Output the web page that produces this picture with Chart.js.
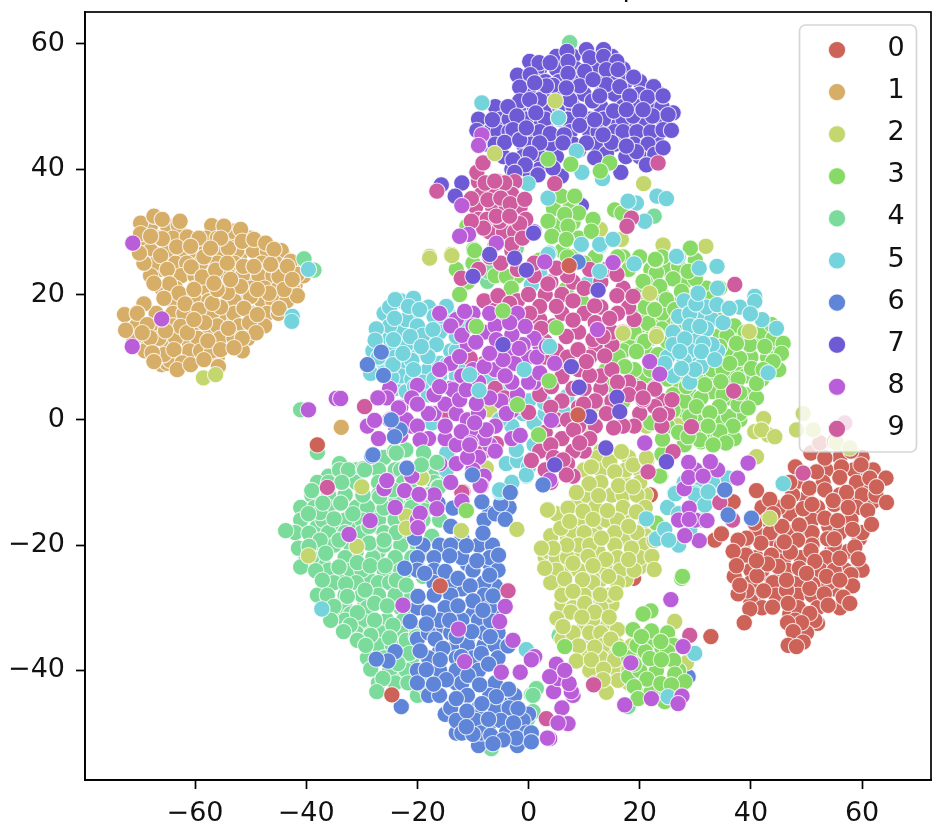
<!DOCTYPE html>
<html><head><meta charset="utf-8">
<script src="https://cdn.jsdelivr.net/npm/chart.js@4/dist/chart.umd.min.js"></script>
<style>html,body{margin:0;padding:0;background:#fff}canvas{display:block}</style>
</head><body><canvas id="c" width="942" height="840"></canvas>
<script>
const legendLabels=["0","1","2","3","4","5","6","7","8","9"];
const classColors=["#CC6258","#D6AE67","#C4D76F","#87DA65","#7ADB9B","#74D3DB","#5E85D8","#6F5AD5","#BA5DD8","#CE5C9E"];
const xTickValues=[-60,-40,-20,0,20,40,60];
const yTickValues=[-40,-20,0,20,40,60];
const class0=[[50.8,-5.3],[53.3,-6.1],[56.3,-7.5],[59.8,-7.2],[61.4,-9.3],[64.3,-9.3],[64.4,-13.2],[51.8,-8.3],[56,-9.2],[50.5,-10.9],[53.3,-11.2],[57.2,-11.6],[54.8,-12.9],[46.7,-13.1],[43.4,-12.7],[41,-11.3],[49.4,-14.2],[53.3,-15.7],[55.6,-16.1],[61,-14.5],[61.7,-16.7],[58.3,-17.5],[48.7,-16.8],[45.6,-17],[40.7,-16.5],[53.8,-19],[48.4,-19.2],[41.8,-19.7],[39.2,-18.9],[37.7,-19.2],[58.7,-20.3],[59.3,-22.2],[50.8,-20.9],[47.1,-21.1],[43.7,-21.6],[39.1,-21.6],[36.8,-21],[56,-22.1],[51.5,-22.6],[44.9,-23.4],[37.4,-23.3],[41.1,-24.9],[48.7,-23.7],[58,-24.7],[58.3,-26.5],[50.6,-26.9],[53.2,-27.8],[46.4,-27.2],[42.3,-27.3],[39.3,-27.3],[37.7,-27.8],[38,-26.4],[56.6,-28.3],[57.8,-29.3],[53.9,-29.6],[46.7,-29.3],[43.9,-29.9],[39.8,-30.2],[38.8,-32.4],[50.6,-30.9],[49.1,-32.4],[46.6,-32.4],[47.6,-33.8],[49.4,-35.5],[46.7,-36],[48.2,-36.2],[46.4,-25.6],[53.6,-25],[56,-25.6],[50,-24.5],[33.5,-19.2],[34.7,-18.2],[36.8,-13.1],[21.9,-12],[18.9,-25.3],[32.8,-34.6],[52.4,-3.7],[62.6,-10.7],[55,-3.5],[58,-5],[48,-7.5],[47,-10],[44,-15],[43,-23],[55,-19],[51,-13.5],[57.5,-14],[46,-19.5],[41,-22.5]];
const fill0=[[56,-6],[60,-6],[53.5,-8],[58.5,-8],[62,-8],[48,-10],[53,-10],[59,-10],[47.5,-12],[56,-12],[60,-12],[62.5,-12],[45,-14],[52,-14],[59,-14],[43,-16],[51,-16],[58,-16],[43.5,-18],[47,-18],[51,-18],[56,-18],[60,-18],[45.5,-20],[51,-20],[55,-20],[41,-22],[49,-22],[53.5,-22],[40,-24],[42,-24],[46.5,-24],[52.5,-24],[55,-24],[40,-26],[44,-26],[48.5,-26],[54,-26],[44.5,-28],[48.5,-28],[51,-28],[42,-30],[48.5,-30],[52,-30],[56,-30],[48,-32],[51.5,-32],[48,-34],[50,-34]];
const extra0=[[52,-4.5],[49,-9],[55,-13.5],[50,-12.5],[61,-11],[47,-15],[42,-14],[54,-17],[59.5,-19],[50,-17.5],[44,-19],[41,-18],[38.5,-20.5],[46,-22],[54.5,-21],[57.5,-21],[42,-24.5],[45,-25.5],[52,-25.5],[60,-24],[55,-27],[41,-28],[37,-25],[47,-31],[52,-32.5],[44.5,-28.5],[49,-27],[40,-29],[48,-35],[57,-24],[51,-19],[62,-13],[60,-9],[58,-13]];
const class1=[[-69.8,31.4],[-69.8,29.7],[-67.4,32.5],[-65.9,32],[-62.7,31.7],[-65.9,28.9],[-61.4,29.2],[-59.3,29],[-63.3,27.6],[-66.2,26.2],[-69.2,25],[-65,24],[-58.4,26],[-60.7,24.4],[-58.7,22.8],[-56.3,23.9],[-54,27.4],[-53.2,30.1],[-54.8,30.9],[-51.8,30.4],[-55.4,29],[-57.2,27.4],[-51.5,28.5],[-49.4,28.8],[-47.3,28.2],[-45.8,27.2],[-51.3,24.5],[-54.2,25],[-49.4,24.5],[-44.9,22.9],[-46.4,24.8],[-42.8,25.3],[-41.6,23.2],[-41.6,19.8],[-44,20.8],[-44.9,17.8],[-46.7,20.2],[-50,19.7],[-51.8,21.3],[-54.2,20.3],[-64.6,21.7],[-67.4,21.8],[-62.9,20.2],[-65.6,19.4],[-61.8,18.5],[-55.4,18],[-59.3,17.6],[-56.9,18.6],[-51.2,17.8],[-50.2,15.5],[-48.8,16.8],[-49,13.9],[-54,14.6],[-58.3,15.5],[-62.6,14.9],[-69.2,18.5],[-72.7,16.8],[-72.5,14.3],[-70.4,17],[-68.6,15.2],[-65.3,14.2],[-68.1,13.1],[-69.5,13.9],[-57.7,12.6],[-51.5,13],[-55.4,11.2],[-53,11.5],[-65.6,10.4],[-67.7,10.7],[-63.8,11.2],[-62.3,9.1],[-67.4,9.3],[-63.2,8],[-60.8,8.8],[-58.4,9.6],[-55.8,8.5],[-61.4,13.9],[-60.2,16],[-56,20.8],[-60.2,20.8],[-53.6,22.4],[-56.6,21.8],[-48.8,20.8],[-60.8,27.7],[-68,29.3],[-70,26.6],[-43.4,24.5],[-42.5,22.4],[-33.7,-1.2]];
const fill1=[[-68,31],[-65,31],[-63,31],[-69,29],[-66.5,29],[-64,29],[-58,29],[-56,29],[-53,29],[-50,29],[-68,27],[-65,27],[-62,27],[-60,27],[-58,27],[-55.5,27],[-52.5,27],[-49.5,27],[-47,27],[-44.5,27],[-69,25],[-67,25],[-63.5,25],[-61.5,25],[-59,25],[-56,25],[-53,25],[-48,25],[-45.5,25],[-43,25],[-41,25],[-68,23],[-62.5,23],[-60,23],[-57,23],[-54,23],[-51.5,23],[-48.5,23],[-46,23],[-43.5,23],[-40.5,23],[-66,21],[-63.5,21],[-60,21],[-58,21],[-52.5,21],[-50,21],[-47.5,21],[-45,21],[-42.5,21],[-64,19],[-60,19],[-57.5,19],[-53,19],[-48,19],[-46,19],[-43.5,19],[-70.5,17],[-67,17],[-64,17],[-62,17],[-57,17],[-53,17],[-50,17],[-47,17],[-45,17],[-70.5,15],[-67,15],[-64,15],[-60,15],[-56,15],[-52,15],[-47.5,15],[-71,13],[-66.5,13],[-63.5,13],[-59.5,13],[-55.5,13],[-53,13],[-50.5,13],[-69,11],[-61,11],[-59,11],[-57,11],[-51.5,11],[-65,9],[-64.5,9.5]];
const extra1=[[-67,27],[-64,25],[-66,24],[-57,31],[-52,26],[-48,26.5],[-44,26],[-58,24],[-54,21.5],[-49,22],[-62,19],[-58,17],[-52,19],[-46,18.5],[-50,15],[-55,16],[-66,16],[-69,12],[-65,12],[-61,12],[-58,13.5],[-56,10],[-66,8.8],[-60,10],[-53,15.5],[-63,23],[-59,20],[-47,22.8],[-42,21.5]];
const class2=[[14.6,-6.7],[16.7,-5.1],[18.8,-7.2],[21.3,-6.4],[11.3,-7.5],[15.5,-8.3],[10.9,-10.2],[16.2,-10.5],[18.8,-10.7],[8.6,-11.6],[12.6,-12.1],[3.5,-14.3],[7.1,-14.1],[14.2,-14.5],[9.8,-14.6],[19.4,-14.7],[11.6,-15.9],[5.8,-17.3],[18,-17],[7.4,-16.2],[13.1,-18.9],[22.6,-19.3],[6.9,-20],[4.4,-20.5],[2.3,-20.5],[18.5,-20.5],[10.7,-21.8],[13.9,-22.3],[22.2,-21.8],[18,-22.3],[2.9,-23.7],[8,-22.9],[11.6,-23.3],[22.6,-23.9],[6.5,-25.4],[9.7,-25.5],[14.4,-25],[8,-27.4],[12.9,-27.9],[15.7,-27.7],[10.1,-29.3],[7.6,-30.7],[11.9,-30.7],[14.5,-31.5],[9.6,-31.5],[5.1,-31.7],[6.2,-33],[26.3,-32.2],[14.8,-35],[9,-36.1],[11.9,-36.3],[18.5,-36.1],[8.6,-38.5],[11.3,-38.3],[15.5,-38.3],[13.5,-39.8],[16.1,-41.6],[14,-43.5],[28.4,-38.8],[13.4,-41.5],[42.3,0.2],[43.1,-2.4],[40.7,-1.9],[41.9,-1.6],[44.3,-2.7],[28.1,-2.8],[27.2,0.3],[27.5,1.6],[21.2,-1],[21.2,-6.1],[41,-5.9],[49.4,1],[48.2,-1.6],[51.2,-1.6],[55.4,-3.7],[57.8,-4.5],[-58.5,6.7],[-56.3,7.2],[24.2,27.9],[31.9,27.7],[20.7,37.7],[12.9,30.4],[16.7,28.8],[24.2,27.9],[-17.8,26.1],[-13.9,26.4],[-39.6,-21.7],[-30.9,-20.2],[-30,-10.7],[-19.2,-9.3],[-12.1,-17.7],[-2.1,-17.5],[3.4,-14.4],[-7.6,-7.7],[-22,-15.4],[-22,-17.3],[10.7,-1.1],[13.1,2.4],[-7,1.6],[-19.2,-9.3]];
const fill2=[[12.5,-6],[18,-6],[13,-8],[17.5,-8],[20,-8],[13,-10],[20,-10],[10.5,-12],[15,-12],[17,-12],[19.5,-12],[12,-14],[17,-14],[21,-14],[9.5,-16],[14,-16],[16,-16],[21,-16],[8,-18],[10,-18],[15.5,-18],[19.5,-18],[9,-20],[11,-20],[15.5,-20],[21,-20],[5,-22],[7,-22],[16,-22],[20,-22],[5,-24],[9,-24],[14,-24],[16.5,-24],[19,-24],[4,-26],[11.5,-26],[16,-26],[6,-28],[10,-28],[14.5,-28],[8,-30],[13,-30],[11.5,-32],[8,-34],[11,-34],[13,-34],[13.5,-36],[16,-36],[13,-38],[11,-40],[16,-40],[18,-40],[12,-42],[18,-42]];
const extra2=[[13,-5],[10,-8],[17,-9],[21,-12],[9,-13],[5,-15],[17.5,-15.5],[12,-17],[22,-17],[7,-19],[11.5,-18.5],[17,-19],[4,-18.5],[21,-18.5],[3,-22],[12.5,-21],[15,-23],[19.5,-20.5],[9,-21],[5,-24],[7.5,-24],[11,-25],[13,-25.5],[17.5,-25.5],[20,-23.5],[3.5,-21],[6,-27],[8.5,-29],[13,-29],[11,-27.5],[15,-29.5],[6,-29.5],[10,-33],[14,-33],[7.5,-35],[11,-35.5],[16,-33.5],[6,-35],[9.5,-37.5],[14.5,-37.5],[17,-38],[12,-40],[14.5,-40.5],[18,-37.5]];
const class3=[[6.5,-36.2],[20.6,-31],[22.1,-33.7],[23.8,-35.4],[21.8,-38.1],[26.1,-38.4],[26.3,-40.6],[21.3,-41.4],[23.8,-42.1],[28.1,-41.8],[19,-42.6],[19.7,-44.5],[25.7,-42.3],[24.5,-45],[16.4,-36.6],[18.8,-33.5],[20.3,-34.6],[23.9,-38.3],[27.5,-25.3],[27.7,-25],[23,-16.5],[23.8,-9],[22.9,25.5],[29.1,27.4],[28.7,23.7],[23.6,21.3],[27.5,20.5],[34.4,21],[24.8,19.2],[26.3,17.6],[21.5,15.4],[20.6,12.5],[35.7,13.4],[43.7,15.2],[45.8,12.2],[45.5,10.6],[39.8,12],[42.5,11.7],[38,9.8],[44,9.3],[35,8],[40.1,8.2],[37.7,6.5],[31.7,5.6],[34.6,6.1],[28.4,5.3],[41,5.8],[30.2,2.1],[34.3,2.1],[37.7,2.4],[39.5,1.9],[32.6,1.1],[36.8,-1],[34.4,-1.9],[30.8,-3.2],[35.5,-3.7],[33.2,-4],[24.1,-3.1],[23.6,-9],[23.3,10.4],[22.7,17.6],[34.4,11.7],[37.4,12.2],[36.2,9],[42.2,8],[38,4.3],[32.3,-1],[28.7,-2.7],[20.9,12.5],[14.9,12.2],[16.1,10.1],[19.4,10.9],[17.3,8.5],[18.5,4.8],[22.8,25.6],[20.6,22.1],[6.8,20.9],[9.5,19],[4.2,29.2],[6.8,28.8],[-4,22.9],[-3.1,21],[-11.1,30.9],[-3.7,30.3],[-9.9,27.2],[4.5,33.7],[5.9,35.7],[8.3,35.7],[6.5,32.8],[3.5,31.7],[7.1,30.9],[4.2,29.3],[6.8,28.8],[11.6,32],[11.3,30.1],[15.5,33.5],[16.8,33],[-9.7,27],[-12.4,20]];
const fill3=[[24,26],[27,24.5],[30,25.5],[26,22.5],[23,23.5],[30,22.5],[33,19.5],[21,22],[24,17],[21,18],[27,18.5],[24,14.5],[27,15.5],[22,13],[25,12.5],[34,16],[37,15],[39,14],[42,14],[44,13],[34.5,13.5],[36.5,10.5],[40,10],[43,10],[22,8],[25,6.5],[28,3],[31,3.5],[33,8],[36,7],[39,7],[42,6.5],[30,7],[26,1.5],[29,0.5],[32,-2],[35,4],[38,1],[36,0.5],[41,3.5],[34,-3],[37,-3],[27,-2],[31,-1.5],[24,-5.5],[19,8],[17,11],[14,8],[19,5.5],[19.5,-36],[21.5,-35.5],[20,-40],[23,-40],[25,-37],[19,-39],[24,-44],[22,-43.5],[27,-44],[21,-37],[5,31],[9,33],[7,26],[10,25],[16,26],[18,24],[20,26]];
const extra3=[[25,24],[22,24],[28,22],[31,21],[24,20],[20,20],[29,19.5],[32,21],[22,16],[25,16],[27,13],[20,15],[36,14],[38,12.5],[41,13],[44,11.5],[39,9],[41,7],[45,8],[37,8],[32,7],[27,6],[24,8],[21,7],[29,4],[26,4],[33,4.5],[36,3.5],[39,4],[33,0],[30,0],[28,1.5],[35,0],[38,0],[31,-3.5],[28,-4],[20,17],[18,12],[16,13.5],[19,14],[21,11],[15,5.5],[17,3],[22,-0.5],[25,-1],[7.5,34],[5,30.5],[8,31.5],[9,29],[6,27],[2,25.5],[-2,23],[-6,23],[-10,25],[-13,24],[-11,22],[22,-38],[24,-36.5],[25,-34],[18,-41],[21,-44],[27,-40],[20,-37],[26,-36],[22,-30.5],[18,-38],[8,26],[12,26],[17,26]];
const class4=[[-43.7,-17.7],[-39,-11.3],[-32.4,-8],[-29.7,-7.8],[-33.6,-10],[-29.8,-12],[-23.9,-13.3],[-26,-14.1],[-37.5,-14.8],[-39.6,-15],[-35,-15.8],[-31.6,-15],[-39.5,-18.1],[-37.5,-19.2],[-34.1,-19.2],[-23.8,-18],[-41.4,-20.5],[-36.5,-21.3],[-28.7,-19.7],[-30.8,-22.8],[-28.5,-23.3],[-25.8,-23.3],[-41,-23.5],[-38.3,-24.1],[-34.1,-23.5],[-20.2,-23.3],[-18.7,-21.3],[-17.4,-18.6],[-23.8,-25.6],[-22,-26.4],[-37.1,-25.6],[-32.9,-26.2],[-29.4,-27.2],[-36.2,-28],[-32.6,-28.2],[-27.7,-29.3],[-25.4,-29.7],[-35,-29.8],[-30.8,-30.8],[-35.6,-32],[-27.7,-32],[-32.1,-32.8],[-24.4,-32.8],[-33.3,-33.8],[-28.4,-34.4],[-25,-34.8],[-30.8,-35.2],[-22,-35.2],[-29.3,-36],[-20.2,-34.6],[-21.4,-37.3],[-28.4,-39.8],[-26.2,-41.3],[-21.7,-42],[-27.3,-43.4],[-18.4,-42.9],[-23.5,-38.9],[-22,-4.8],[-18.9,-5.3],[-19,-7.2],[-16.5,-6.8],[-16.3,-10.7],[-24.1,-5],[-20.8,-9.6],[-16,-16],[-38,-5.2],[0.5,-43.9],[-4.6,-47.7],[-0.1,-47.7],[1.4,-42.9],[-6.7,-52.5],[5.5,-34.4],[-37,-13.3],[-26.8,-12.3],[-33.8,-13.3],[-28.7,-17],[-26,-19.2],[-39.5,-20.2],[-2.2,27.2],[-7.4,22.1],[-7.3,23.7],[-22.1,-4.8],[-23.8,-5.3],[-24.4,-11.2],[-29.5,-8],[-16.2,-10.8],[7.4,60.2],[-40.4,25.7],[-38.6,23.9],[-41,1.6],[22.6,32.5],[-2.2,27.4],[0.8,-44],[0.8,-46.6],[17.9,-45.8]];
const fill4=[[-34,-8],[-31,-8],[-27,-8],[-23,-8],[-20,-8],[-38,-10],[-36,-10],[-31,-10],[-27,-10],[-22.5,-10],[-17,-10],[-39,-12],[-36,-12],[-33,-12],[-27,-12],[-24,-12],[-21,-12],[-18,-12],[-38.5,-14],[-36,-14],[-31,-14],[-29,-14],[-23,-14],[-21,-14],[-41,-16],[-37,-16],[-33,-16],[-30,-16],[-27,-16],[-24,-16],[-19,-16],[-42,-18],[-36,-18],[-33,-18],[-30,-18],[-26,-18],[-22,-18],[-39,-20],[-35,-20],[-32,-20],[-26,-20],[-23,-20],[-20,-20],[-39,-22],[-33,-22],[-28,-22],[-24,-22],[-21,-22],[-36,-24],[-32,-24],[-30,-24],[-26,-24],[-23,-24],[-35,-26],[-31,-26],[-27,-26],[-25,-26],[-38,-28],[-30,-28],[-27,-28],[-24,-28],[-21,-28],[-33,-30],[-32,-31],[-29,-30],[-23,-30],[-33,-32],[-30,-32],[-25.5,-32],[-22.5,-32],[-31,-34],[-26.5,-34],[-23,-34],[-27,-36],[-24.5,-36],[-26,-38],[-21,-38],[-25,-40],[-22,-40],[-19.5,-40],[-24,-42],[-19.5,-42]];
const extra4=[[-34,-7],[-36,-9],[-41,-14],[-38,-17],[-35,-17.5],[-31,-17],[-28,-15],[-25,-15],[-22,-16],[-20,-14],[-40,-22],[-37,-23],[-31,-21],[-27,-21],[-22,-24],[-19,-25],[-34,-25],[-29,-25],[-24,-24],[-36,-26],[-33,-28],[-29.5,-29],[-23,-28],[-21,-30],[-37,-30],[-34,-31],[-29,-33],[-26,-33],[-21,-33],[-31.5,-33.5],[-27,-37],[-25,-38],[-23,-37],[-29,-38],[-24,-41],[-27,-42],[-20,-44],[-23,-36],[-20,-36],[-20,-12],[-26,-6],[-24,-8],[-17,-8],[-15,-10],[-18,-14],[-27,-17]];
const class5=[[-24,19.2],[-20.7,19.4],[-21.6,18.1],[-24.1,16.2],[-19.6,17.6],[-14.1,16.5],[-17.2,14.4],[-27.4,14.5],[-27.6,12.7],[-24.3,12.8],[-21.3,13.3],[-16.6,12],[-18.1,10.1],[-14.7,8.8],[-20.7,8],[-24.6,6.7],[-28.4,7.4],[-20.5,5.3],[-10.6,7.2],[-8.9,4.7],[-0.8,8],[3.8,11.7],[2.9,2.7],[6.9,3.7],[6.5,1],[-17.4,-0.5],[-14.5,-5.3],[-2.2,-4.8],[-0.4,-9],[12.9,27.8],[12.8,23.7],[10.6,21.7],[19,24.9],[0.5,21.5],[9.5,27.9],[3.7,26.6],[-24.4,8.8],[-14.8,18.1],[-22.6,10.6],[-19.3,11.7],[-5.2,-11.5],[-13,13.3],[-7,6.9],[-5.2,0],[2,23.4],[26.9,26],[33.9,24.5],[30.7,24.2],[30.1,18.5],[30.5,20.2],[33.9,18.4],[36.1,17.8],[40.7,19.7],[40.7,18.9],[39.9,16.9],[30.8,14.9],[28.1,12.9],[31.4,12.2],[27.2,10.9],[31.1,10.9],[33.5,9.6],[29.9,8],[27.5,8.2],[43.1,7.5],[44.6,14.6],[24.5,9],[32.9,-9.6],[26.3,-11.7],[29.9,-11.7],[45.8,-10.2],[26.4,-11.8],[30,-12],[33.1,-9.9],[21.2,-15.8],[24.5,-17.5],[25.2,-19.2],[29,-17.5],[31.7,-13.6],[32.3,-11.5],[35.9,-9.3],[29.9,-37.3],[25.1,-44.2],[-8.4,50.6],[5.4,48.2],[9.6,39.5],[-0.1,37.7],[13.3,38.5],[8.6,42.9],[3.5,35.4],[19.4,34.6],[23.1,35.7],[24.8,35.3],[17.9,34.9],[20.9,31.7],[12.8,28],[9.5,28],[3.5,26.4],[26.6,26.1],[15.2,28.8],[-39.6,24],[-42.5,16.5],[-42.6,15.7],[-37.2,-30.2],[-0.4,-36.7],[-5.2,-11.2],[-0.4,-8.8],[-14.7,-5.3],[-2.2,-4.8],[-14.8,-8]];
const fill5=[[-25,18],[-22,16],[-25,15],[-20,15],[-17,16.5],[-15,15],[-25,11],[-22,12],[-19,13.5],[-16,14],[-27,10],[-24,10],[-21,9.5],[-18,8],[-16,9],[-23,7],[-21,6.5],[-26,7.5],[-19,6],[-17,6.5],[-13,11],[-12,5.5],[-9,6],[-5,4.5],[29,17],[32,18],[35,15.5],[29,15],[32,14.5],[26,12],[29,11],[33,12],[28,9.5],[31,8.5],[26,7],[-2,-6.5],[0,-7.5],[-3,-1],[-1,1],[1,-0.5],[3,1]];
const extra5=[[-26,17],[-23,19],[-21,16.5],[-23,14],[-18,18],[-16,17],[-12,15.5],[-18,12],[-20,11],[-25,13],[-28,11],[-26,9],[-22,8.5],[-19,7.5],[-14,11],[-12,9],[-16,7],[-13,7],[-10,5],[-24,5],[-22,4.5],[-18,4],[-6,6],[-3,4],[28,19],[31,17],[33,16],[27,16.5],[30,13],[26,14],[34,11],[29,6],[25,10],[30,10.5],[38,18],[42,16],[34,21],[1,-4],[-2,-3],[3,-2],[0,3],[-6,-5],[-4,-7],[-3,-10],[31,-11],[28,-10],[35,-11],[25,-14],[27,-15],[31,-16],[23,-19],[27,-20]];
const class6=[[-28.2,-5.8],[-21.9,-7.7],[-10.2,-8.7],[-3.2,-11.6],[-8.4,-13.1],[-5,-13.4],[-4.2,-15.9],[-13.6,-14.1],[-8.2,-18.1],[-20.5,-18.9],[-11.2,-20.1],[-14.2,-21.7],[-9.3,-22.5],[-5.4,-21.6],[-15,-24.2],[-7,-24.8],[-18.7,-24.5],[-22.3,-23.7],[-12.7,-25.3],[-10.5,-26.5],[-19.9,-28.2],[-6.4,-28.1],[-10,-28.9],[-12.7,-29.7],[-18,-30.7],[-21.3,-32.2],[-18.4,-32.6],[-6.8,-32.1],[-10.2,-33.8],[-6.9,-34.6],[-16.8,-35],[-15.4,-36.5],[-19.5,-36.9],[-3.7,-36.1],[-8.5,-37.3],[-15.9,-38.3],[-7.2,-39],[-18.4,-39.9],[-25.3,-38.5],[-27.4,-38.2],[-10.9,-40.8],[-14.8,-41.5],[-17.1,-42.2],[-8.8,-42.3],[-3.6,-43],[-5.8,-44.2],[-8.4,-45.3],[-1.9,-46.1],[-11.1,-46.5],[-7.2,-47.8],[-2.7,-48.4],[-10,-50.2],[-6.8,-50.4],[-2.2,-50.8],[0.5,-50],[-22.9,-45.8],[-13,-44.5],[-12.1,-37.8],[-13,-34.6],[-14.2,-32],[-8.2,-30.4],[-11.2,-49],[-4.6,-51.1],[-6.4,-51.7],[0.5,-51.4],[-16.3,-13.3],[28.7,-41]];
const fill6=[[-14,-20],[-9,-20],[-6.5,-20],[-20,-22],[-17,-22],[-12,-22],[-7,-22],[-20,-24],[-17,-24],[-10,-24],[-5.5,-24],[-17,-26],[-14,-26],[-8,-26],[-17,-28],[-14,-28],[-8,-28],[-20,-30],[-15,-30],[-7,-30],[-16,-32],[-12,-32],[-9,-32],[-18,-34],[-14,-34],[-8,-34],[-5.5,-34],[-13,-36],[-11,-36],[-6,-36],[-18,-38],[-13,-38],[-10,-38],[-5.5,-38],[-20,-40],[-16,-40],[-13,-40],[-9,-40],[-20,-42],[-12,-42],[-6,-42],[-16,-44],[-11,-44],[-7,-44],[-2.5,-44],[-14,-46],[-9,-46],[-6,-46],[-3.5,-46],[-13,-48],[-9.5,-48],[-5,-48],[-1,-48],[-12,-50],[-8.5,-50],[-4,-50],[-0.5,-50],[-6,-15],[-3.5,-14]];
const extra6=[[-16,-20],[-12,-19],[-19,-20],[-11,-23],[-7,-23],[-16,-27],[-12,-27],[-6,-26.5],[-13,-31],[-10,-31],[-6,-30],[-16,-33],[-20,-35],[-11,-35],[-8,-36],[-16,-37],[-13,-42],[-10,-38.5],[-18,-44],[-15,-47],[-11,-44],[-5,-46],[-7,-48.5],[-3,-45],[0,-47],[-13,-50],[-9,-52],[-2,-52],[-24,-37],[-14,-17],[-7,-15],[-8,-16]];
const class7=[[6.9,58.8],[10.4,59.1],[13.5,59.1],[11,57.8],[7.1,57.2],[13.5,58],[15.9,57.2],[0.2,57.2],[1.9,57],[3.9,57],[0.3,55.1],[7.1,55.3],[10.1,55.6],[14,55.9],[16.1,55.9],[4.4,53.4],[-1.6,53.1],[14,53.5],[18.9,54.7],[22.5,53.2],[16.4,53.2],[21.4,51.5],[18.2,51.7],[24.2,51.7],[7.4,51.1],[11.5,50.9],[-1.6,50.9],[-3.7,50],[2,51.1],[0.2,51.1],[9.2,49.3],[15.3,49.3],[18.8,48.5],[22.3,48.5],[25.1,48.7],[-2.1,48.5],[-6.5,47.9],[-2.8,46.3],[1.3,49],[9.2,47],[11.9,47.9],[3.9,45.7],[6.4,45.5],[24.2,46.3],[25.7,46.2],[14.9,44.3],[10.4,44.2],[-4.3,44.3],[2,44.2],[-9.3,46.2],[19.4,42.8],[22.7,42.4],[24.2,43.4],[11.9,41.8],[0.3,42.5],[-2.8,41.5],[-0.6,40.7],[1.7,39.1],[-2.5,39.5],[5.9,38.9],[4.4,40.2],[16.6,39.5],[21.2,40.7],[17.6,43.7],[13.4,45.5],[6.2,44.2],[-1.6,44.7],[-0.4,46.6],[17.6,49.5],[12.8,51.7],[9.2,53.3],[6.8,53],[11.6,54.3],[20.6,49.5],[3.2,53.3],[1.1,53.8],[-15.7,37.5],[-12,37.8],[-13.2,35.7],[9.5,34.2],[1,30]];
const fill7=[[8,58],[12,58],[15,58],[1.5,56],[5,56],[8.5,56],[12,56],[15,56],[17,56],[1.5,54],[3,54],[5.5,54],[8,54],[13,54],[15.5,54],[17.5,54],[20,54],[0,52],[3,52],[5.5,52],[8.5,52],[10,52],[13,52],[15.5,52],[20,52],[23.5,52],[-1,50],[1,50],[3.5,50],[5.5,50],[8,50],[13,50],[17,50],[19.5,50],[22,50],[24,50],[-5,48],[-3.5,48],[-0.5,48],[3,48],[5.5,48],[7,48],[11,48],[13.5,48],[17,48],[21,48],[24,48],[-7,46],[-5.5,46],[-3.5,46],[0.5,46],[2,46],[7.5,46],[11,46],[12.5,46],[15.5,46],[17,46],[19.5,46],[22,46],[-7.5,44],[-6,44],[-1,44],[0.5,44],[4,44],[8,44],[12,44],[15.5,44],[19,44],[21.5,44],[-4.5,42],[-1,42],[2,42],[14,42.5],[17.5,42],[20,42],[-3,40],[-0.5,40],[2,40]];
const extra7=[[5,42],[9,43],[7,46.5],[14,47],[19,47],[23,45],[26,49],[3,47],[-1,46],[-4,48],[-6,50],[-9,48],[2,48],[9,55],[13,55],[18,50],[2,56],[5,58],[-2,55],[16,47],[13,42],[21,44]];
const class8=[[-8.4,45.5],[-9,43.8],[-12,34.2],[-10.8,29.6],[-5.8,28.2],[-12.4,29.3],[2.9,25.2],[15.2,25.1],[-11.5,17.3],[-7,17],[-0.6,14.9],[-3,13.6],[-9.5,12.4],[-1.7,11.4],[-4.6,9.6],[1.5,10],[4.7,9],[-4.2,7],[12.4,14.4],[-5.8,12.8],[-13.6,4.8],[-16,5.3],[-27.1,3.5],[-23.4,1.9],[-20,2.5],[-27.7,-0.1],[-12.1,-1.9],[-7.6,-1.6],[-10.4,-3.7],[-9.7,-0.5],[-1.5,-2.5],[4.1,-0.1],[3.8,-9.6],[-19.5,-3.2],[-25.5,-9.7],[-22.3,-11.3],[-19.6,-12],[-8.5,-10.5],[20.9,-3.7],[-9.4,2.6],[-12.4,3.2],[-11.2,4.8],[-7,10.6],[-12.4,10.1],[3.2,11.7],[-3.4,15.5],[28.8,-6.8],[32.7,-6.7],[39.5,-6.9],[37.6,-9.3],[28.8,-9.2],[31.4,-9],[21.8,9.3],[23.6,7.3],[28.9,-14.1],[28.9,-15.9],[32.1,-16.1],[30.7,-19.3],[28.1,-18.5],[25.6,-28.7],[27.8,-36.2],[18.4,-38.8],[27.6,-44.1],[26.9,-45.3],[22.1,-44.5],[17.3,-45.5],[5.6,-48.4],[7.1,-48.5],[3.8,-50.9],[4.5,-43.4],[7.7,-43.4],[5.3,-41.3],[7.3,-42.1],[3.8,-41],[6.5,-40],[1.1,-37.8],[-25.5,-9.7],[-22.3,-11.3],[-19.7,-11.9],[-19.5,-14.9],[-16.5,-14.2],[-8.7,-10.5],[-28.5,-16.1],[-32.3,-18.3],[-19.9,-17.2],[-22.6,-29.6],[-4.2,-29.8],[-5.2,-32.2],[-12.6,-33.4],[-11.5,-38.6],[-4.9,-40.3],[-1.5,-40.3],[0.5,-38.3],[-2.8,-35.2],[5.3,-48.4],[-10.6,-4],[-71.2,28.2],[-66,16.1],[-71.3,11.7],[-39.6,1.6],[-34.6,3.4],[-33.8,3.4],[3.4,-50.8]];
const fill8=[[-14,15],[-12,13.5],[-10,15],[-8,14],[-6,15],[-2,17],[1,13],[-10,8],[-8,8.5],[-5.5,10.5],[-2.5,9],[-1,12],[-3,6],[0,6],[2,7.5],[-12,7],[-14,5],[-15,2.5],[-17,4],[-13,1],[-11,0],[-9,1],[-7,3.5],[-6,-1],[-4,1],[-3,-3],[-15,-1],[-13,-4],[-8,-3],[-6,-5],[-11,-6],[-25,0],[-22,0],[-21,3.5],[-25.5,3.5],[-18,1],[-20,-1]];
const extra8=[[-16,17],[-10,17],[-5,17],[-13,16],[-11,12],[-7,14],[-3,11],[0,10],[2,12],[-14,9],[-9,6],[-6,8],[-2,4],[1,6],[-16,8],[-17,1],[-15,-3],[-12,-2],[-7,-4],[-3,1.5],[-10,-2],[-5,3],[-24,-1],[-23,-2.5],[-21,-1],[-18,-3],[-27,-3],[-29,-1],[-23,2],[-20,5.5],[-25,5],[-16,-7],[-13,-7],[-9,-6],[-17,-12],[-20,-16],[-21,-9],[-24,-14],[-26,-11],[-14,-10],[-10,-8],[-12,-13],[-8,-9],[6,-46],[5,-39],[8,-44],[30,-8],[34,-8],[28,-11],[30,-16],[27,-16]];
const class9=[[-9.3,39.5],[-8.2,41],[-7.8,37.8],[-4.3,37.8],[-6.1,38.1],[-16.5,36.5],[-10.3,35.3],[-7.3,35.1],[-5,35.4],[-3.3,34.5],[-0.7,35.2],[-7.5,32],[-5.2,31.7],[-1.6,31.3],[-8.1,30.6],[-10.3,31.7],[-1.1,29],[-5.8,32.5],[-3.4,32.5],[18.5,32.2],[17.7,30.9],[23.3,41],[4.7,37.7],[-12.1,22.6],[-5.5,19.8],[3.5,21.7],[5,24.2],[15.9,23.2],[11.9,18.2],[15.9,19.8],[14.6,16.2],[8,15.9],[2.3,14.6],[2,18.1],[8.9,11.2],[13.7,10.2],[11,7.1],[6,6.9],[-4.3,3.5],[9.9,2.5],[0,1.2],[-14.7,1.3],[-29.5,2.1],[8.1,-1.6],[15.3,-1.3],[6.2,-6.4],[6.8,-8.8],[0.5,-6.4],[9.2,-3.7],[22.7,2.1],[20.6,3.2],[22.7,5.1],[-10.5,9.8],[-5.8,-3.8],[-11.8,-11.5],[11.6,12.8],[6.8,13.3],[10.4,9.3],[13.4,13.3],[18.8,19.7],[4.1,5.3],[0.8,6.9],[0.2,17],[-3.4,18.6],[5,18.1],[37.1,21.6],[22.7,4.9],[25.8,3.2],[36.9,4.6],[29.3,-1.1],[26,-5.1],[20.6,3.5],[23.6,0.8],[49.4,-8.5],[56.9,-0.5],[34.4,-13.2],[36.7,-16],[21.5,-8.3],[29,-34.4],[11.7,-42.3],[3.2,-47.7],[-36.2,-10.8],[-12,-11.6],[-3.7,-27.3],[0.5,-6.5]];
const fill9=[[-9,38],[-5.5,38],[-2.5,38],[-8.5,36],[-6,36],[-3,36],[-9.5,34],[-6.5,34],[-4,34],[-1.5,34],[-9,32],[-6.5,32],[-3,32],[-0.5,32],[-7,30],[-4.5,30],[-2.5,30],[-6,28],[-3,28],[-2,24],[1,25],[4,22],[7,23],[10,21],[13,22],[14,24],[17,21],[18,18],[-8,19],[-6,17.5],[-3,16],[0,20],[2,16],[4.5,15],[6,17],[8,19],[10,17],[12,15.5],[13,18],[16,17],[17,14],[3,12.5],[5,11],[7,10],[9,8],[9,14],[11,10],[13,7],[15,8],[16,6],[18,4],[8,5],[6,3],[4,2],[2,4],[10,5],[12,3],[14,1],[17,-1],[7,0],[9,-1],[11,-3],[6,-3],[8,-5],[4,-4],[7,-7],[4.5,-6],[3,-8]];
const extra9=[[0,30],[-3,27],[-7,26],[-9,24],[-5,25],[-2,19],[3,20],[1,23],[6,20],[8,22],[11,24],[3,10],[6,8],[9,11],[12,12],[15,12],[19,16],[15,14],[20,5],[18,6],[13,5],[9,2],[5,0],[3,-2],[12,-1],[15,3],[10,-5],[2,-5],[8,-9],[4,-10],[20,1],[24,3],[19,-1],[25,1],[-8,9],[-6,5],[-2,2],[-8,-5],[-10,-8],[24,-1]];
const over0=[[7.3,24.6],[8.9,0.8],[-15.9,-26.5],[-38,-4],[-24.6,-43.9]];
const over2=[[4.8,50.9],[-6.1,42.5],[39.7,14.1],[21.8,20.2],[23,13.6],[17,13.8],[23,13.3],[-17.8,25.8],[-13.8,26.2],[43.4,-15.7]];
const over3=[[3.5,41.6],[7.6,40.8],[14.6,41],[12.9,39.7],[-4.6,17.4],[-9.4,14.9],[5,14.7],[-2,2.4],[3.7,6.2],[1.8,-2.4],[-11.2,-14.5]];
const over4=[[-18.9,-5.3],[-16.5,-6.8],[-19.3,-7.2]];
const over5=[[5.4,48.2],[-8.4,50.6],[-0.8,8],[3.8,11.7],[-8.9,4.7],[-10.6,7.2],[12.8,23.7]];
const over6=[[8.9,25.2],[-26.5,10.8],[-29,8.8],[-23.1,-1.6],[-24.1,-2.7],[-28,-5.6],[-21.9,-7.7],[-10.1,-8.8],[-3.3,-11.6],[2.6,-10.4],[-26.1,7.1],[-24.7,0],[35.3,-11.3],[35.9,-15.2],[40.1,-15.7],[35.3,-11.2]];
const over7=[[-10,22.9],[-0.4,23.9],[-2.5,25.8],[-7,26.4],[0.9,29.8],[12.5,20.7],[9.1,5.2],[15.9,3.6],[16.4,1.3],[-4.6,12],[7.7,8.5],[13.9,-4.5],[4.7,-7.2],[11,0.5],[24.8,-6.7]];

const layers=[[extra1,1],[fill1,1],[class1,1],[extra0,0],[fill0,0],[class0,0],[extra4,4],[fill4,4],[class4,4],[extra7,7],[fill7,7],[class7,7],[extra6,6],[fill6,6],[class6,6],[extra2,2],[fill2,2],[class2,2],[extra3,3],[fill3,3],[class3,3],[extra5,5],[fill5,5],[class5,5],[extra9,9],[fill9,9],[class9,9],[extra8,8],[fill8,8],[class8,8],[over4,4],[over5,5],[over3,3],[over2,2],[over6,6],[over7,7],[over0,0]];
const n=layers.length;
const datasets=layers.map(([d,k],i)=>({label:legendLabels[k],data:d,order:n-i,backgroundColor:classColors[k],borderColor:'rgba(255,255,255,0.8)',borderWidth:1.1,pointRadius:8.2,pointHoverRadius:8.2}));

const FONT='27px "DejaVu Sans"';
const decor={id:'decor',
 beforeDraw(ch){const g=ch.ctx;g.save();g.fillStyle='#fff';g.fillRect(0,0,942,840);g.restore();},
 afterDraw(ch){const g=ch.ctx,a=ch.chartArea;g.save();
  g.strokeStyle='#000';g.lineWidth=1.7;g.strokeRect(a.left,a.top,a.right-a.left,a.bottom-a.top);
  g.fillStyle='#111';g.font=FONT;g.textBaseline='alphabetic';g.textAlign='left';g.fillText('p',622.6,-3.6);
  const bx=799.5,by=25,bw=117,bh=427,r=6;
  g.beginPath();g.roundRect(bx,by,bw,bh,r);g.fillStyle='rgba(255,255,255,0.8)';g.fill();
  g.strokeStyle='rgba(204,204,204,0.8)';g.lineWidth=1.7;g.stroke();
  legendLabels.forEach((t,i)=>{const y=50+i*42.1;
   g.beginPath();g.arc(837,y,8.6,0,Math.PI*2);g.fillStyle=classColors[i];g.fill();
   g.strokeStyle='rgba(255,255,255,0.7)';g.lineWidth=1.1;g.stroke();
   g.fillStyle='#111';g.font=FONT;g.textAlign='left';g.textBaseline='middle';g.fillText(t,887.5,y-1);
  });
  g.restore();}
};
const fmt=v=>String(v).replace('-','\u2212');
const axis=(vals,min,max,pos,fit,pad)=>({type:'linear',position:pos,min,max,
  afterBuildTicks:s=>{s.ticks=vals.map(v=>({value:v}));},
  afterFit:s=>{fit(s);s.paddingTop=0;s.paddingBottom=0;s.paddingLeft=0;s.paddingRight=0;},
  grid:{drawOnChartArea:false,drawTicks:true,tickLength:9,tickColor:'#000',tickWidth:1.7},
  border:{color:'#000',width:1.7},
  ticks:{callback:fmt,color:'#111',font:{family:'DejaVu Sans',size:27},padding:pad,maxRotation:0,autoSkip:false}});
new Chart(document.getElementById('c'),{type:'scatter',data:{datasets},plugins:[decor],options:{
 responsive:false,animation:false,devicePixelRatio:1,
 layout:{padding:{left:0,top:12,right:11,bottom:0}},
 plugins:{legend:{display:false},tooltip:{enabled:false},title:{display:false}},
 scales:{x:axis(xTickValues,-79.8,72.4,'bottom',s=>{s.height=60;},9),y:axis(yTickValues,-57.5,65.1,'left',s=>{s.width=85;},11)}
}});
</script></body></html>
